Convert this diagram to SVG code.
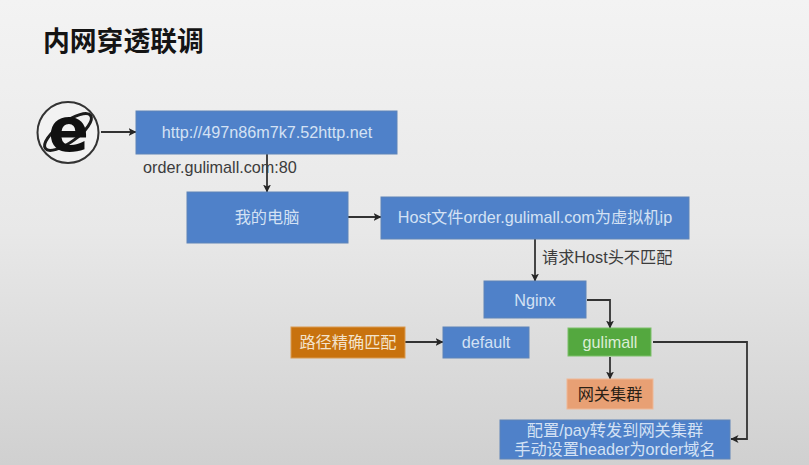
<svg xmlns="http://www.w3.org/2000/svg" width="809" height="465" viewBox="0 0 809 465">
<defs>
<linearGradient id="bg" x1="0" y1="0" x2="0" y2="1"><stop offset="0" stop-color="#f3f3f3"/><stop offset="0.5" stop-color="#e8e8e8"/><stop offset="1" stop-color="#d0d0d0"/></linearGradient>
<marker id="arr" markerWidth="9" markerHeight="9" refX="7.500" refY="4.500" orient="auto" markerUnits="userSpaceOnUse"><path d="M0,0.500 L8,4.500 L0,8.500 L2,4.500 Z" fill="#262626"/></marker>
</defs>
<style>
.b{fill:#4f81c9;stroke:#5f84b8;stroke-width:1}
.t{font-family:"Liberation Sans","Noto Sans CJK SC",sans-serif;font-size:16.200px;text-anchor:middle;fill:#d4e1f4}
.d{font-family:"Liberation Sans","Noto Sans CJK SC",sans-serif;font-size:16.200px;fill:#3c3c3c}
.c{fill:none;stroke:#333;stroke-width:1.800;marker-end:url(#arr)}
</style>
<rect width="809" height="465" fill="url(#bg)"/>
<text id="title" x="43" y="51" font-family="'Noto Sans CJK SC','Liberation Sans',sans-serif" font-size="26.800" font-weight="700" fill="#141414">内网穿透联调</text>
<g id="connectors">
<path class="c" d="M101 132H136"/>
<path class="c" d="M267 154V192"/>
<path class="c" d="M348 217H381"/>
<path class="c" d="M535 239V281"/>
<path class="c" d="M587 300H610V328"/>
<path class="c" d="M405 342H443"/>
<path class="c" d="M610 357V379"/>
<path class="c" d="M653 342H747V439H731"/>
</g>
<g id="ie">
<circle cx="68" cy="132.500" r="30.500" fill="#f2f2f2" stroke="#333" stroke-width="2"/>
<ellipse cx="68" cy="132" rx="28" ry="10" transform="rotate(-36 68 132)" fill="none" stroke="#1c1c1c" stroke-width="3"/>
<text x="68.500" y="151" font-family="'DejaVu Sans',sans-serif" font-size="60" font-weight="700" text-anchor="middle" fill="#111">e</text>
</g>
<g id="url"><rect class="b" x="136" y="111" width="261" height="43"/><text class="t" x="267" y="138">http://497n86m7k7.52http.net</text></g>
<text id="lbl-order" class="d" x="143" y="173">order.gulimall.com:80</text>
<g id="pc"><rect class="b" x="187" y="192" width="161" height="51"/><text class="t" x="267" y="223">我的电脑</text></g>
<g id="host"><rect class="b" x="381" y="197" width="308" height="42"/><text class="t" x="535" y="223">Host文件order.gulimall.com为虚拟机ip</text></g>
<text id="lbl-host" class="d" x="542" y="263">请求Host头不匹配</text>
<g id="nginx"><rect class="b" x="484" y="281" width="102" height="37"/><text class="t" x="535" y="306">Nginx</text></g>
<g id="path"><rect x="291" y="327" width="114" height="31" fill="#c8720e" stroke="#d99a50"/><text class="t" x="348" y="348" style="fill:#f3e3cc">路径精确匹配</text></g>
<g id="default"><rect class="b" x="443" y="327" width="86" height="31"/><text class="t" x="486" y="348">default</text></g>
<g id="gulimall"><rect x="568" y="328" width="83" height="28" fill="#54a83f" stroke="#7cc06a"/><text class="t" x="610" y="348" style="fill:#dceed6">gulimall</text></g>
<g id="gateway"><rect x="567" y="379" width="86" height="30" fill="#e8a074" stroke="#efb896"/><text class="t" x="610" y="400" style="fill:#2a2015">网关集群</text></g>
<g id="config"><rect class="b" x="500" y="420" width="230" height="39"/><text class="t" x="615" y="436">配置/pay转发到网关集群</text><text class="t" x="615" y="455">手动设置header为order域名</text></g>
</svg>
